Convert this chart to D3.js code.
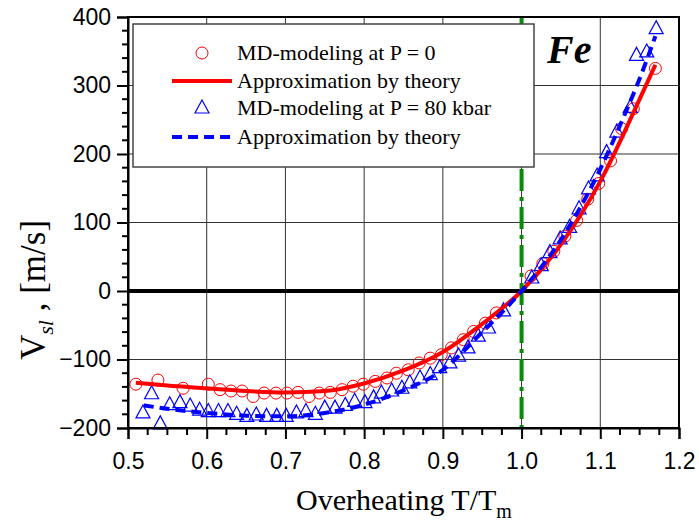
<!DOCTYPE html>
<html>
<head>
<meta charset="utf-8">
<script src="https://cdn.jsdelivr.net/npm/d3@7"></script>
<style>
  body { margin: 0; background: #fff; }
  svg { display: block; }
</style>
</head>
<body>
<div id="chart"></div>
<script>
// MD data, P = 0 (red circles)
var tP0 = [0.510, 0.538, 0.570, 0.602, 0.617, 0.631, 0.645, 0.659, 0.673, 0.688, 0.702, 0.716, 0.730, 0.743, 0.757,
  0.772, 0.786, 0.799, 0.814, 0.829, 0.841, 0.856, 0.870, 0.884, 0.898, 0.911, 0.926, 0.939, 0.954, 0.968,
  1.012, 1.027, 1.041, 1.055, 1.070, 1.084, 1.098, 1.113, 1.127, 1.142, 1.170];
var vP0 = [-136, -130, -142, -136, -144, -146, -146, -154, -149, -149, -149, -148, -154, -149, -148,
  -144, -139, -136, -132, -127, -120, -115, -105, -98, -93, -83, -71, -59, -47, -32,
  22, 40, 58, 80, 103, 134, 157, 190, 237, 266, 325];

// MD data, P = 80 kbar (blue triangles)
var tP80 = [0.519, 0.530, 0.541, 0.553, 0.566, 0.579, 0.591, 0.602, 0.615, 0.627, 0.638, 0.651, 0.663, 0.676, 0.689,
  0.701, 0.714, 0.726, 0.738, 0.750, 0.763, 0.776, 0.788, 0.801, 0.812, 0.822, 0.835, 0.848, 0.858, 0.871,
  0.884, 0.896, 0.909, 0.920, 0.932, 0.945, 0.958, 0.977, 1.013, 1.025, 1.036, 1.049, 1.061, 1.073, 1.085,
  1.096, 1.108, 1.121, 1.138, 1.146, 1.159, 1.171];
var vP80 = [-178, -150, -194, -166, -163, -168, -174, -176, -176, -176, -180, -183, -181, -183, -183,
  -183, -178, -176, -180, -171, -171, -167, -161, -163, -156, -149, -146, -142, -134, -127,
  -122, -112, -105, -95, -83, -66, -54, -29, 19, 37, 56, 76, 93, 120, 149,
  168, 202, 232, 268, 344, 349, 383];

// approximation by theory
var tFit0 = [0.51, 0.55, 0.60, 0.65, 0.70, 0.75, 0.80, 0.85, 0.90, 0.95, 1.00, 1.05, 1.10, 1.15, 1.17];
var vFit0 = [-134, -138, -142, -146, -148, -146, -135, -116, -89, -48, 0, 68, 160, 280, 330];
var tFit80 = [0.52, 0.55, 0.60, 0.65, 0.70, 0.75, 0.80, 0.85, 0.90, 0.95, 1.00, 1.05, 1.10, 1.13, 1.15, 1.17];
var vFit80 = [-167, -172, -178, -182, -183, -178, -166, -145, -115, -60, 0, 75, 178, 255, 310, 372];

var xTicks = [0.5, 0.6, 0.7, 0.8, 0.9, 1.0, 1.1, 1.2];
var yTicks = [-200, -100, 0, 100, 200, 300, 400];
var legendLabels = ["MD-modeling at P = 0", "Approximation by theory", "MD-modeling at P = 80 kbar", "Approximation by theory"];

var width = 699, height = 524;
var mLeft = 128, mRight = 679, mTop = 17, mBottom = 428;

var svg = d3.select("#chart").append("svg")
  .attr("width", width)
  .attr("height", height);

var x = d3.scaleLinear().domain([0.5, 1.2]).range([mLeft, mRight]);
var y = d3.scaleLinear().domain([-200, 400]).range([mBottom, mTop]);

var pts0 = tP0.map((t, i) => [t, vP0[i]]);
var pts80 = tP80.map((t, i) => [t, vP80[i]]);
var fit0 = tFit0.map((t, i) => [t, vFit0[i]]);
var fit80 = tFit80.map((t, i) => [t, vFit80[i]]);

// grid
var grid = svg.append("g").attr("stroke", "#333").attr("stroke-width", 1);
grid.selectAll(".gx").data(xTicks.slice(1, -1)).join("line")
  .attr("x1", d => x(d)).attr("x2", d => x(d))
  .attr("y1", mTop).attr("y2", mBottom);
grid.selectAll(".gy").data(yTicks.slice(1, -1).filter(d => d != 0)).join("line")
  .attr("x1", mLeft).attr("x2", mRight)
  .attr("y1", d => y(d)).attr("y2", d => y(d));

// zero line
svg.append("line")
  .attr("x1", mLeft).attr("x2", mRight)
  .attr("y1", y(0)).attr("y2", y(0))
  .attr("stroke", "#000").attr("stroke-width", 4);

// T = Tm
svg.append("line")
  .attr("x1", x(1.0)).attr("x2", x(1.0))
  .attr("y1", mTop).attr("y2", mBottom)
  .attr("stroke", "#0a8a0a").attr("stroke-width", 4)
  .attr("stroke-dasharray", "22,6,4,6");

var tri = "M0,-8L7,5L-7,5Z";

// markers
svg.append("g").selectAll("circle").data(pts0).join("circle")
  .attr("cx", d => x(d[0])).attr("cy", d => y(d[1])).attr("r", 6)
  .attr("fill", "none").attr("stroke", "#ff0000").attr("stroke-width", 1);

svg.append("g").selectAll("path").data(pts80).join("path")
  .attr("d", tri)
  .attr("transform", d => `translate(${x(d[0])},${y(d[1])})`)
  .attr("fill", "none").attr("stroke", "#0000ff").attr("stroke-width", 1.2);

var line = d3.line().x(d => x(d[0])).y(d => y(d[1])).curve(d3.curveMonotoneX);

svg.append("path").datum(fit0)
  .attr("d", line)
  .attr("fill", "none").attr("stroke", "#ff0000").attr("stroke-width", 4);

svg.append("path").datum(fit80)
  .attr("d", line)
  .attr("fill", "none").attr("stroke", "#0000ff").attr("stroke-width", 4)
  .attr("stroke-dasharray", "10,6");

// legend
var lg = svg.append("g");
lg.append("rect")
  .attr("x", 133).attr("y", 24).attr("width", 401).attr("height", 143)
  .attr("fill", "#fff").attr("stroke", "#444").attr("stroke-width", 1.5);
var rows = [53, 81, 108, 137];
lg.append("circle").attr("cx", 202).attr("cy", rows[0]).attr("r", 6)
  .attr("fill", "none").attr("stroke", "#ff0000");
lg.append("line").attr("x1", 172).attr("x2", 232).attr("y1", rows[1]).attr("y2", rows[1])
  .attr("stroke", "#ff0000").attr("stroke-width", 4);
lg.append("path").attr("d", tri).attr("transform", `translate(202,${rows[2]})`)
  .attr("fill", "none").attr("stroke", "#0000ff").attr("stroke-width", 1.2);
lg.append("line").attr("x1", 172).attr("x2", 232).attr("y1", rows[3]).attr("y2", rows[3])
  .attr("stroke", "#0000ff").attr("stroke-width", 4).attr("stroke-dasharray", "10,6");
lg.selectAll("text").data(legendLabels).join("text")
  .attr("x", 237).attr("y", (d, i) => rows[i] + 7)
  .attr("font-family", "Liberation Serif, Times New Roman, serif")
  .attr("font-size", 22)
  .text(d => d);

// Fe label
svg.append("text")
  .attr("x", 547).attr("y", 63)
  .attr("font-family", "Liberation Serif, Times New Roman, serif")
  .attr("font-size", 40).attr("font-weight", "bold").attr("font-style", "italic")
  .text("Fe");

// frame
svg.append("rect")
  .attr("x", mLeft).attr("y", mTop).attr("width", mRight - mLeft).attr("height", mBottom - mTop)
  .attr("fill", "none").attr("stroke", "#000").attr("stroke-width", 2);

// axes
var xAxis = d3.axisBottom(x).tickValues(xTicks).tickFormat(d3.format(".1f")).tickSize(11).tickPadding(14);
var yAxis = d3.axisLeft(y).tickValues(yTicks).tickFormat(d3.format("d")).tickSize(11).tickPadding(6);

var gx = svg.append("g").attr("transform", `translate(0,${mBottom})`).call(xAxis);
var gy = svg.append("g").attr("transform", `translate(${mLeft},0)`).call(yAxis);
[gx, gy].forEach(g => {
  g.select(".domain").attr("stroke-width", 2);
  g.selectAll(".tick line").attr("stroke-width", 2);
  g.selectAll("text").attr("font-family", "Liberation Sans, Arial, sans-serif").attr("font-size", 23).attr("fill", "#000");
});

// minor ticks
var xMinor = d3.range(0.525, 1.2, 0.025).filter(d => Math.abs(d * 10 - Math.round(d * 10)) > 0.01);
svg.append("g").selectAll("line").data(xMinor).join("line")
  .attr("x1", d => x(d)).attr("x2", d => x(d))
  .attr("y1", mBottom).attr("y2", mBottom + 7)
  .attr("stroke", "#000").attr("stroke-width", 2);
var yMinor = d3.range(-180, 400, 20).filter(d => d % 100 != 0);
svg.append("g").selectAll("line").data(yMinor).join("line")
  .attr("x1", mLeft - 6).attr("x2", mLeft)
  .attr("y1", d => y(d)).attr("y2", d => y(d))
  .attr("stroke", "#000").attr("stroke-width", 2);

// axis titles
var xt = svg.append("text")
  .attr("x", 404).attr("y", 510)
  .attr("text-anchor", "middle")
  .attr("font-family", "Liberation Serif, Times New Roman, serif")
  .attr("font-size", 30);
xt.append("tspan").text("Overheating T/T");
xt.append("tspan").attr("font-size", 20).attr("dy", 8).text("m");

var yt = svg.append("text")
  .attr("transform", "translate(45,290) rotate(-90)")
  .attr("text-anchor", "middle")
  .attr("font-family", "Liberation Serif, Times New Roman, serif")
  .attr("font-size", 35);
yt.append("tspan").text("V");
yt.append("tspan").attr("font-size", 22).attr("font-style", "italic").attr("dy", 8).text("sl");
yt.append("tspan").attr("dy", -8).text(" , [m/s]");
</script>
</body>
</html>
